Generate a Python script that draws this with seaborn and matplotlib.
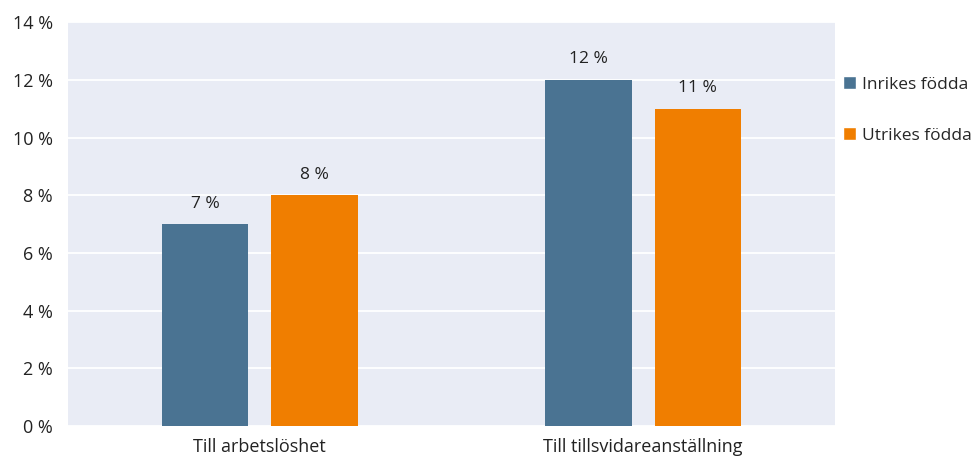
import matplotlib
matplotlib.use("Agg")
import matplotlib.pyplot as plt
import seaborn as sns
import pandas as pd
from matplotlib.patches import Patch

# Andel som gick vidare, per övergång och födelseregion (procent)
categories = ["Till arbetslöshet", "Till tillsvidareanställning"]
groups = ["Inrikes födda", "Utrikes födda"]
inrikes = [7, 12]
utrikes = [8, 11]
yticks = [0, 2, 4, 6, 8, 10, 12, 14]

colors = {"Inrikes födda": "#4A7392", "Utrikes födda": "#F07E00"}

df = pd.DataFrame({
    "kategori": categories * 2,
    "grupp": [groups[0]] * len(categories) + [groups[1]] * len(categories),
    "andel": inrikes + utrikes,
})

sns.set_theme(style="darkgrid")
plt.rcParams["font.family"] = ["Open Sans", "DejaVu Sans"]

fig = plt.figure(figsize=(9.75, 4.62), dpi=100)
ax = fig.add_axes([0.0697, 0.078, 0.7867, 0.874])
ax.set_facecolor("#E9ECF5")

sns.barplot(data=df, x="kategori", y="andel", hue="grupp", order=categories,
            hue_order=groups, palette=colors, width=0.57, gap=0.21,
            saturation=1, linewidth=0, ax=ax, legend=False)

for cont in ax.containers:
    ax.bar_label(cont, labels=[f"{v:g} %" for v in cont.datavalues],
                 padding=9, fontsize=12.5, color="#222222")

ax.set_xlim(-0.5, 1.5)
ax.set_ylim(0, 14)
ax.set_yticks(yticks)
ax.set_yticklabels([f"{t} %" for t in yticks], fontsize=13, color="#222222")
ax.tick_params(axis="x", labelsize=13, labelcolor="#222222", pad=9, length=0)
ax.tick_params(axis="y", pad=11, length=0)
ax.grid(axis="x", visible=False)
ax.grid(axis="y", color="white", linewidth=1.3)
ax.set_xlabel("")
ax.set_ylabel("")
for s in ax.spines.values():
    s.set_visible(False)

handles = [Patch(facecolor=colors[g], label=g) for g in groups]
fig.legend(handles=handles, loc="upper left", bbox_to_anchor=(0.857, 0.85),
           frameon=False, fontsize=12.5, handlelength=0.75, handleheight=0.75,
           handletextpad=0.35, labelspacing=2.0, borderaxespad=0)

fig.savefig("out.png", dpi=100)
